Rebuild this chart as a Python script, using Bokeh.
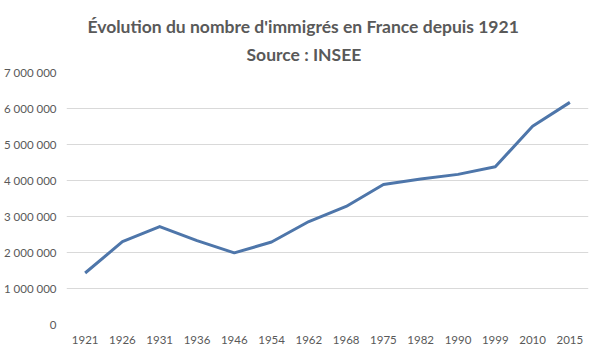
from bokeh.plotting import figure
from bokeh.embed import file_html
from bokeh.resources import INLINE
from bokeh.models import FixedTicker, Range1d, Title

years = ["1921", "1926", "1931", "1936", "1946", "1954", "1962", "1968",
         "1975", "1982", "1990", "1999", "2010", "2015"]
immigres = [1430000, 2300000, 2720000, 2330000, 1990000, 2290000, 2860000,
            3280000, 3890000, 4040000, 4170000, 4380000, 5510000, 6170000]
y_ticks = [0, 1000000, 2000000, 3000000, 4000000, 5000000, 6000000, 7000000]
y_tick_labels = ["0", "1 000 000", "2 000 000", "3 000 000", "4 000 000",
                 "5 000 000", "6 000 000", "7 000 000"]
title_line1 = "Évolution du nombre d'immigrés en France depuis 1921"
title_line2 = "Source : INSEE"

FONT = "Lato"
GREY = "#595959"

p = figure(width=594, height=349, x_range=years, y_range=Range1d(0, 7000000),
           output_backend="svg", toolbar_location=None,
           min_border_left=60, min_border_right=6, min_border_bottom=25,
           min_border_top=72)

# titles stacked above the frame (first added is closest to the frame)
for txt, off, so, va in [(title_line2, 180, 12, "top"),
                         (title_line1, 21, 2, "bottom")]:
    t = Title(text=txt, align="left", offset=off, standoff=so,
              vertical_align=va,
              text_font=FONT, text_font_size="17.5px",
              text_font_style="bold", text_color=GREY)
    p.add_layout(t, "above")

p.line(years, immigres, line_color="#4e76aa", line_width=3, line_join="round")

p.yaxis.ticker = FixedTicker(ticks=y_ticks)
p.yaxis.major_label_overrides = {v: l for v, l in zip(y_ticks, y_tick_labels)}
for ax in (p.xaxis[0], p.yaxis[0]):
    ax.axis_line_color = None
    ax.major_tick_line_color = None
    ax.minor_tick_line_color = None
    ax.major_tick_out = 0
    ax.major_tick_in = 0
    ax.minor_tick_out = 0
    ax.major_label_text_font = FONT
    ax.major_label_text_font_size = "11.5px"
    ax.major_label_text_color = GREY
p.yaxis.major_label_standoff = 10
p.xaxis.major_label_standoff = 11

p.xgrid.grid_line_color = None
p.ygrid.grid_line_color = "#d9d9d9"
p.outline_line_color = None
p.x_range.range_padding = 0

open("out.html", "w").write(file_html(p, INLINE))
